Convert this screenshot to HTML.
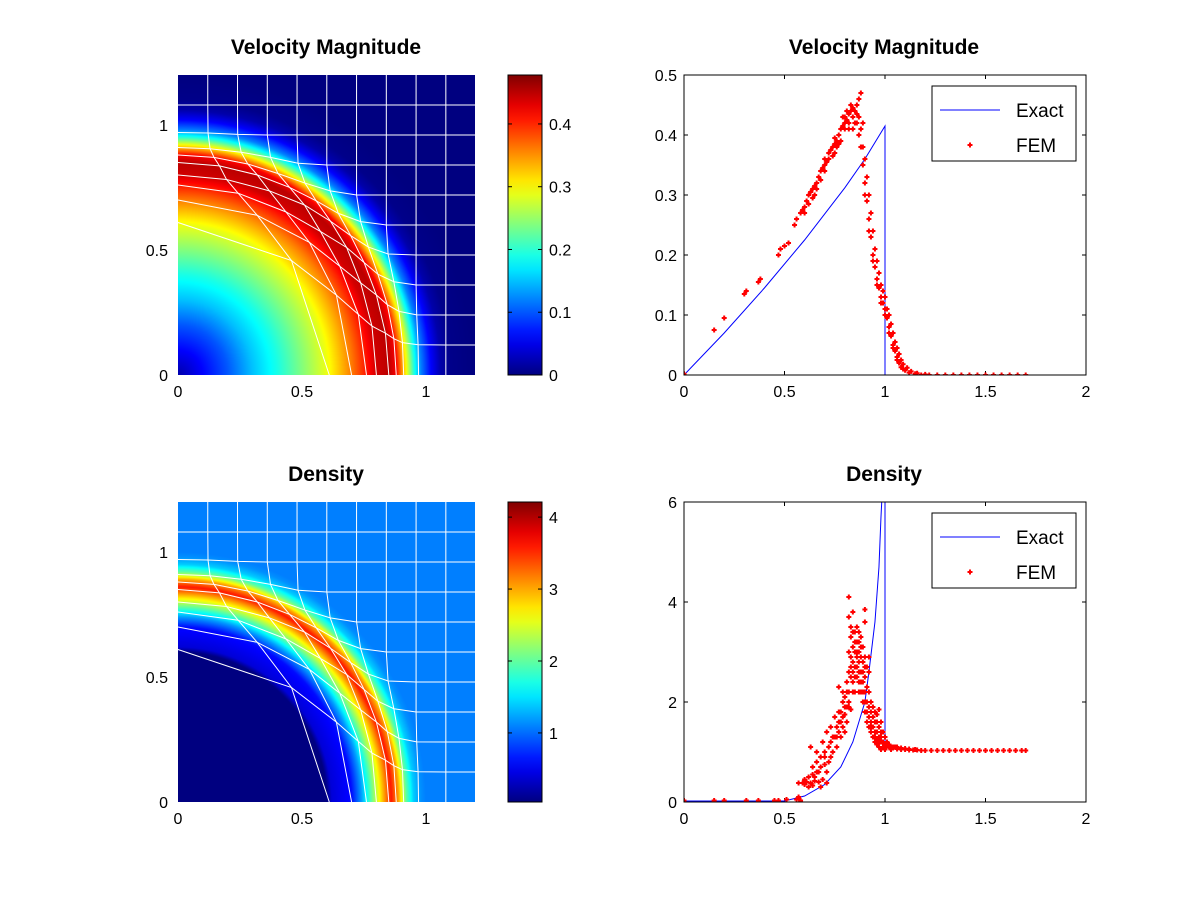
<!DOCTYPE html>
<html><head><meta charset="utf-8"><style>
body{margin:0;background:#fff;}
#wrap{position:relative;width:1200px;height:900px;overflow:hidden;font-family:"Liberation Sans",sans-serif;}
canvas,svg{position:absolute;left:0;top:0;}
</style></head><body>
<div id="wrap">
<canvas id="hm1" width="297" height="300" style="left:178px;top:75px"></canvas>
<canvas id="hm2" width="297" height="300" style="left:178px;top:502px"></canvas>
<svg id="svg" width="1200" height="900"></svg>
</div>
<script>
// ---- data ----
const velProfileR = [0,0.1,0.2,0.3,0.4,0.5,0.6,0.7,0.75,0.8,0.85,0.88,0.92,0.95,0.98,1.02,1.06,1.1,1.2,1.8];
const velProfileV = [0.02,0.06,0.1,0.15,0.19,0.24,0.29,0.36,0.4,0.44,0.45,0.42,0.3,0.2,0.12,0.06,0.02,0.005,0,0];
const denProfileR = [0,0.6,0.62,0.7,0.74,0.78,0.82,0.86,0.89,0.92,0.95,0.98,1.0,1.8];
const denProfileD = [0.04,0.04,0.4,0.6,1.2,2.0,2.8,3.6,3.0,2.0,1.4,1.15,1.08,1.08];
const velRange = [0,0.478];
const denRange = [0.04,4.21];
const velCbTicks = [0,0.1,0.2,0.3,0.4];
const denCbTicks = [1,2,3,4];
const hmTicks = [0,0.5,1];
const lineXTicks = [0,0.5,1,1.5,2];
const velYTicks = [0,0.1,0.2,0.3,0.4,0.5];
const denYTicks = [0,2,4,6];
const exactVelX = [0,0.2,0.4,0.6,0.8,0.9,1.0,1.0];
const exactVelY = [0,0.07,0.145,0.225,0.312,0.36,0.415,0];
const exactDenX = [0,0.5,0.6,0.7,0.78,0.84,0.9,0.92,0.95,0.97,0.98,0.99,1.0,1.0];
const exactDenY = [0.02,0.02,0.12,0.35,0.7,1.2,2.0,2.6,3.6,4.7,5.7,6.5,6.5,1.0];
const femVel = [[0,0.002],[0.15,0.075],[0.2,0.095],[0.3,0.135],[0.31,0.14],[0.37,0.155],[0.38,0.16],[0.47,0.2],[0.48,0.21],[0.5,0.215],[0.52,0.22],[0.55,0.25],[0.56,0.26],[0.58,0.27],[0.59,0.275],[0.6,0.28],[0.61,0.29],[0.62,0.3],[0.63,0.305],[0.64,0.31],[0.65,0.315],[0.66,0.32],[0.67,0.33],[0.68,0.34],[0.69,0.345],[0.7,0.35],[0.7,0.36],[0.71,0.355],[0.72,0.37],[0.73,0.375],[0.74,0.38],[0.75,0.385],[0.75,0.395],[0.76,0.39],[0.77,0.4],[0.78,0.41],[0.79,0.415],[0.8,0.42],[0.8,0.43],[0.81,0.425],[0.82,0.435],[0.83,0.44],[0.84,0.43],[0.85,0.44],[0.86,0.45],[0.87,0.46],[0.88,0.47],[0.86,0.42],[0.87,0.4],[0.88,0.38],[0.89,0.35],[0.9,0.32],[0.91,0.29],[0.92,0.26],[0.93,0.23],[0.94,0.2],[0.95,0.18],[0.96,0.16],[0.97,0.145],[0.98,0.13],[0.99,0.12],[1.0,0.11],[1.01,0.095],[1.02,0.08],[1.03,0.065],[1.04,0.05],[1.05,0.04],[1.06,0.03],[1.07,0.02],[1.08,0.013],[1.1,0.008],[1.12,0.004],[1.15,0.002],[0.65,0.3],[0.7,0.34],[0.75,0.37],[0.8,0.41],[0.78,0.39],[0.82,0.42],[0.84,0.41],[0.6,0.27],[0.62,0.285],[0.66,0.31],[0.72,0.36],[0.76,0.38],[0.83,0.45],[0.81,0.44],[0.79,0.43],[0.85,0.42],[0.87,0.43],[0.89,0.42],[0.84,0.445],[0.82,0.41],[0.86,0.435],[0.77,0.385],[0.74,0.365],[0.68,0.325],[0.64,0.295],[0.9,0.3],[0.92,0.24],[0.94,0.19],[0.96,0.15],[0.98,0.12],[1.0,0.1],[1.02,0.07],[1.04,0.045],[1.06,0.025],[1.09,0.01],[0.88,0.41],[0.89,0.38],[0.9,0.36],[0.91,0.33],[0.92,0.3],[0.93,0.27],[0.94,0.24],[0.95,0.21],[0.96,0.19],[0.97,0.17],[0.98,0.15],[0.99,0.14],[1.0,0.13],[1.01,0.11],[1.02,0.1],[1.03,0.085],[1.04,0.07],[1.05,0.055],[1.06,0.045],[1.07,0.035],[1.08,0.025],[1.09,0.018],[1.11,0.012],[1.13,0.006],[1.16,0.003],[1.2,0.001],[1.18,0],[1.22,0],[1.26,0],[1.3,0],[1.34,0],[1.38,0],[1.42,0],[1.46,0],[1.5,0],[1.54,0],[1.58,0],[1.62,0],[1.66,0],[1.7,0]];
const femDen = [[0,0.03],[0.15,0.03],[0.2,0.03],[0.31,0.03],[0.37,0.03],[0.45,0.03],[0.47,0.03],[0.51,0.05],[0.56,0.05],[0.57,0.1],[0.58,0.03],[0.57,0.38],[0.59,0.38],[0.61,0.4],[0.63,0.38],[0.65,0.42],[0.67,0.4],[0.69,0.45],[0.71,0.38],[0.6,0.35],[0.64,0.33],[0.68,0.3],[0.63,1.1],[0.64,0.7],[0.66,0.8],[0.68,0.9],[0.7,1.0],[0.72,1.1],[0.73,1.2],[0.75,1.3],[0.76,1.5],[0.78,1.6],[0.8,1.75],[0.82,1.9],[0.83,1.85],[0.66,1.0],[0.69,1.2],[0.71,1.4],[0.73,1.5],[0.75,1.7],[0.77,1.6],[0.79,1.5],[0.81,1.6],[0.67,0.6],[0.7,0.75],[0.72,0.8],[0.74,1.0],[0.76,1.1],[0.78,1.3],[0.8,1.4],[0.77,2.3],[0.77,1.8],[0.79,2.2],[0.8,2.1],[0.81,2.4],[0.79,2.0],[0.82,4.1],[0.82,3.7],[0.84,3.8],[0.9,3.85],[0.9,3.6],[0.82,2.2],[0.83,2.5],[0.84,2.8],[0.85,3.0],[0.86,3.2],[0.87,3.4],[0.88,3.3],[0.89,3.1],[0.9,2.9],[0.91,2.7],[0.92,2.6],[0.83,3.3],[0.84,3.1],[0.85,2.7],[0.86,2.5],[0.87,2.4],[0.88,2.6],[0.89,2.8],[0.9,2.5],[0.91,2.3],[0.92,2.9],[0.83,2.9],[0.84,2.4],[0.85,2.2],[0.86,2.9],[0.87,2.8],[0.88,2.2],[0.89,2.4],[0.85,3.4],[0.86,3.5],[0.87,3.0],[0.88,2.9],[0.84,2.6],[0.83,2.7],[0.87,2.6],[0.9,2.2],[0.89,2.0],[0.9,1.8],[0.91,1.6],[0.92,1.5],[0.93,1.4],[0.94,1.3],[0.95,1.2],[0.96,1.15],[0.97,1.1],[0.98,1.05],[0.92,1.9],[0.93,1.8],[0.94,1.7],[0.95,1.6],[0.96,1.75],[0.97,1.85],[0.98,1.6],[0.96,1.4],[0.97,1.3],[0.98,1.4],[0.95,1.4],[0.93,1.6],[0.99,1.2],[1.0,1.15],[1.01,1.12],[1.02,1.1],[1.04,1.08],[1.06,1.06],[1.08,1.05],[1.1,1.05],[1.12,1.04],[1.14,1.04],[1.16,1.04],[1.18,1.03],[1.2,1.03],[1.23,1.03],[1.26,1.03],[1.29,1.03],[1.32,1.03],[1.35,1.03],[1.38,1.03],[1.41,1.03],[1.44,1.03],[1.47,1.03],[1.5,1.03],[1.53,1.03],[1.56,1.03],[1.59,1.03],[1.62,1.03],[1.65,1.03],[1.68,1.03],[1.7,1.03],[1.0,1.05],[1.03,1.05],[1.05,1.1],
[0.6,0.45],[0.62,0.5],[0.64,0.55],[0.66,0.6],[0.62,0.3],[0.65,0.5],[0.68,0.7],[0.7,0.9],[0.71,0.6],[0.73,0.9],[0.74,1.3],[0.76,1.3],[0.77,1.4],[0.78,1.8],[0.79,1.7],[0.8,1.9],[0.81,1.9],[0.82,2.0],[0.81,2.2],[0.82,2.6],[0.82,3.0],[0.83,3.5],[0.84,3.4],[0.84,2.2],[0.85,2.5],[0.85,3.2],[0.86,2.7],[0.86,3.0],[0.87,3.2],[0.87,2.2],[0.88,2.4],[0.88,3.1],[0.89,2.6],[0.89,2.2],[0.9,2.0],[0.9,2.7],[0.91,2.0],[0.91,1.8],[0.92,1.7],[0.92,2.2],[0.93,2.0],[0.93,1.5],[0.94,1.5],[0.94,1.9],[0.95,1.8],[0.95,1.3],[0.96,1.25],[0.96,1.6],[0.97,1.5],[0.97,1.2],[0.98,1.2],[0.98,1.3],[0.99,1.1],[0.99,1.4],[1.0,1.3],[1.0,1.1],[1.01,1.2],[1.02,1.15],[1.03,1.1],[1.04,1.1],[1.06,1.1],[1.08,1.08],[1.1,1.07],[1.12,1.06],[1.15,1.05]];

// ---- helpers ----
const NS='http://www.w3.org/2000/svg';
const svg=document.getElementById('svg');
function el(tag,attrs,parent){const e=document.createElementNS(NS,tag);for(const k in attrs)e.setAttribute(k,attrs[k]);(parent||svg).appendChild(e);return e;}
function txt(x,y,s,anchor,size,parent){const t=el('text',{x:x,y:y,'text-anchor':anchor||'middle','font-size':size||16,'font-family':'Liberation Sans, sans-serif',fill:'#000'},parent);t.textContent=s;return t;}
function cl(v){return Math.max(0,Math.min(1,v));}
function jet(t){return [cl(1.5-Math.abs(4*t-3)),cl(1.5-Math.abs(4*t-2)),cl(1.5-Math.abs(4*t-1))].map(v=>Math.round(v*255));}
function interp(xs,ys,x){if(x<=xs[0])return ys[0];for(let i=1;i<xs.length;i++){if(x<=xs[i]){const f=(x-xs[i-1])/(xs[i]-xs[i-1]||1);return ys[i-1]+f*(ys[i]-ys[i-1]);}}return ys[ys.length-1];}

function heat(id,R,V,range){
  const c=document.getElementById(id),ctx=c.getContext('2d'),img=ctx.createImageData(297,300);
  for(let py=0;py<300;py++)for(let px=0;px<297;px++){
    const x=(px+0.5)/248,y=(300-py-0.5)/250,r=Math.hypot(x,y);
    const v=interp(R,V,r),col=jet((v-range[0])/(range[1]-range[0]));
    const i=(py*297+px)*4;img.data[i]=col[0];img.data[i+1]=col[1];img.data[i+2]=col[2];img.data[i+3]=255;}
  ctx.putImageData(img,0,0);
}
heat('hm1',velProfileR,velProfileV,velRange);
heat('hm2',denProfileR,denProfileD,denRange);

// mesh
const mR0=[0,0.12,0.24,0.36,0.48,0.6,0.72,0.84,0.96,1.0,3];
const mR1=[0,0.61,0.70,0.76,0.80,0.85,0.88,0.91,0.97,1.0,3];
function mesh(top,name){
  const g=el('g',{stroke:'#fff','stroke-width':1,fill:'none'});
  
  
  const node=(i,j)=>{const x=i*0.12,y=j*0.12,r=Math.hypot(x,y);if(r===0)return[178,top+300];const s=interp(mR0,mR1,r)/r;return[178+x*s*248,top+300-y*s*250];};
  for(let i=1;i<10;i++){let p=[],q=[];for(let j=0;j<=10;j++){p.push(node(i,j).join(','));q.push(node(j,i).join(','));}
    el('polyline',{points:p.join(' ')},g);el('polyline',{points:q.join(' ')},g);}
}
mesh(75,'velocity-mesh');mesh(502,'density-mesh');

function hmAxes(top,name){
  const g=el('g',{});
  hmTicks.forEach(v=>{txt(178+v*248,top+300+22,String(v),'middle',16,g);txt(168,top+300-v*250+6,String(v),'end',16,g);});
}
hmAxes(75,'velocity-heatmap-axes');hmAxes(502,'density-heatmap-axes');

// colorbars
const defs=el('defs',{});
const gr=el('linearGradient',{id:'jetg',x1:0,y1:1,x2:0,y2:0},defs);
for(let k=0;k<=20;k++){const c=jet(k/20);el('stop',{offset:k/20,'stop-color':`rgb(${c})`},gr);}
function cbar(top,range,ticks,name){
  const g=el('g',{});
  el('rect',{x:508,y:top,width:34,height:300,fill:'url(#jetg)',stroke:'#000','stroke-width':1},g);
  ticks.forEach(v=>{const y=top+300-(v-range[0])/(range[1]-range[0])*300;
    el('line',{x1:508,x2:512,y1:y,y2:y,stroke:'#000'},g);el('line',{x1:538,x2:542,y1:y,y2:y,stroke:'#000'},g);
    txt(549,y+6,String(v),'start',16,g);});
}
cbar(75,velRange,velCbTicks,'velocity-colorbar');cbar(502,denRange,denCbTicks,'density-colorbar');

// line plots
function linePlot(top,ymax,yticks,ex,ey,fem,name){
  const g=el('g',{});
  const X=x=>684+x*201,Y=y=>top+300-y/ymax*300;
  const cp='clip'+top;const c=el('clipPath',{id:cp},defs);el('rect',{x:684,y:top,width:402,height:300},c);
  lineXTicks.forEach(v=>{const x=X(v);el('line',{x1:x,x2:x,y1:top+300,y2:top+296,stroke:'#000'},g);el('line',{x1:x,x2:x,y1:top,y2:top+4,stroke:'#000'},g);txt(x,top+322,String(v),'middle',16,g);});
  yticks.forEach(v=>{const y=Y(v);el('line',{x1:684,x2:688,y1:y,y2:y,stroke:'#000'},g);el('line',{x1:1086,x2:1082,y1:y,y2:y,stroke:'#000'},g);txt(677,y+6,String(v),'end',16,g);});
  const pl=el('polyline',{points:ex.map((x,i)=>X(x)+','+Y(ey[i])).join(' '),fill:'none',stroke:'#0000ff','stroke-width':1,'clip-path':`url(#${cp})`},g);
  
  let d='';fem.forEach(p=>{const x=X(p[0]),y=Y(p[1]);d+=`M${x-2.5} ${y}h5M${x} ${y-2.5}v5`;});
  const sc=el('path',{d:d,stroke:'#ff0000','stroke-width':2,fill:'none','clip-path':`url(#${cp})`},g);
  
  el('rect',{x:684,y:top,width:402,height:300,fill:'none',stroke:'#000'},g);
  const lg=el('g',{},g);
  el('rect',{x:932,y:top+11,width:144,height:75,fill:'#fff',stroke:'#000'},lg);
  el('line',{x1:940,x2:1000,y1:top+35,y2:top+35,stroke:'#0000ff'},lg);txt(1016,top+42,'Exact','start',19,lg);
  el('path',{d:`M967.5 ${top+70}h5M970 ${top+67.5}v5`,stroke:'#ff0000','stroke-width':2},lg);txt(1016,top+77,'FEM','start',19,lg);
}
linePlot(75,0.5,velYTicks,exactVelX,exactVelY,femVel,'velocity-line-plot');
linePlot(502,6,denYTicks,exactDenX,exactDenY,femDen,'density-line-plot');

// titles
[[326,54,'Velocity Magnitude','title-velocity-heatmap'],[884,54,'Velocity Magnitude','title-velocity-plot'],[326,481,'Density','title-density-heatmap'],[884,481,'Density','title-density-plot']].forEach(a=>{
  const t=txt(a[0],a[1],a[2],'middle',21);t.setAttribute('font-weight','bold');
  
  
});
</script>
</body></html>
